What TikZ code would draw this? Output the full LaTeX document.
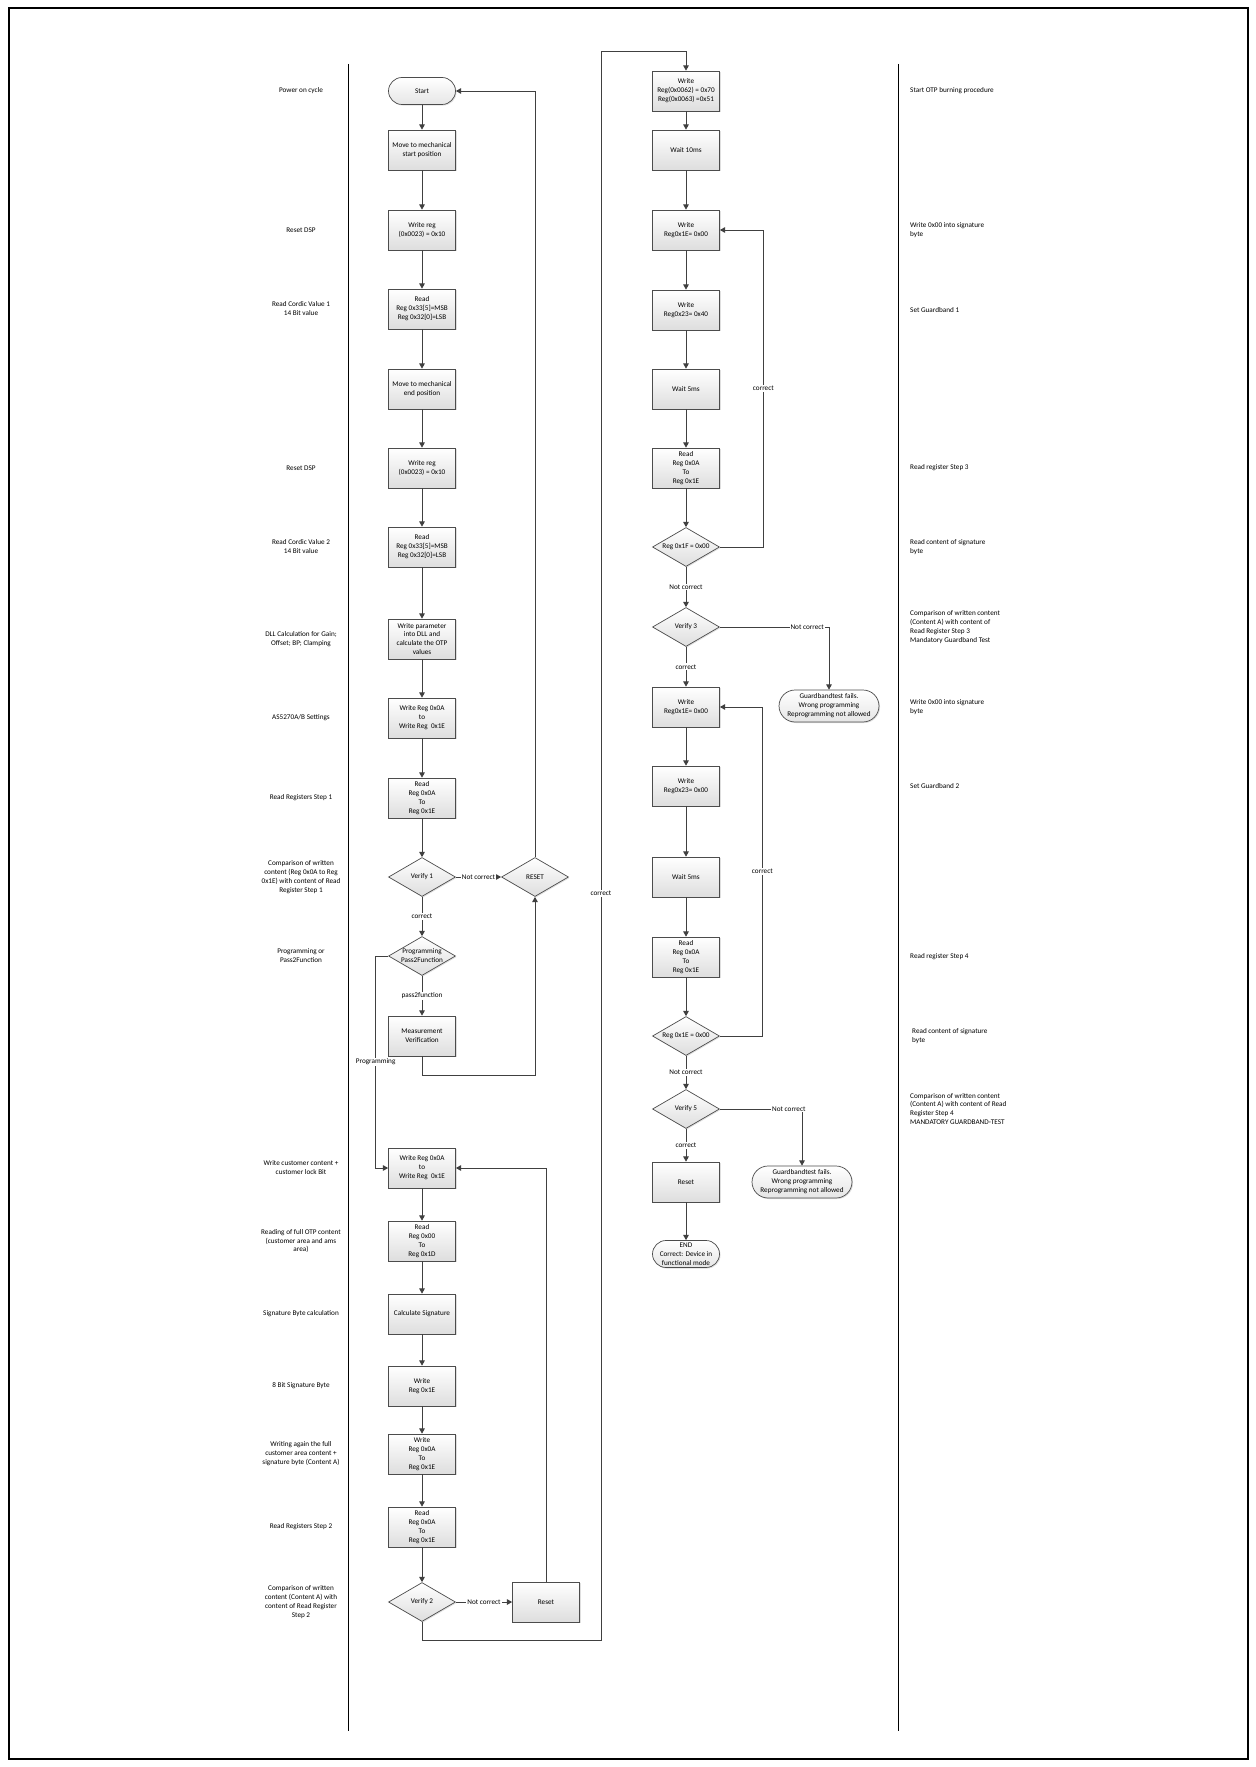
\documentclass[tikz,border=0pt]{standalone}
\usepackage{fontspec}
\setmainfont{Carlito}
\usetikzlibrary{shapes.geometric,arrows.meta,shadows}
\newcommand{\smallfnt}{\fontsize{4.1}{5.1}\selectfont}
\begin{document}
\begin{tikzpicture}[x=0.02cm,y=-0.02cm]
  \tikzset{ box/.style={rectangle,draw=black!70,top color=white,bottom color=black!13,
      drop shadow={opacity=0.25,shadow xshift=0.6pt,shadow yshift=-0.6pt},
      minimum width=1.34cm,minimum height=0.8cm,inner sep=0pt,align=center,font=\smallfnt},
    dec/.style={diamond,draw=black!70,top color=white,bottom color=black!13,
      drop shadow={opacity=0.25,shadow xshift=0.6pt,shadow yshift=-0.6pt},
      minimum width=1.34cm,minimum height=0.78cm,inner sep=0pt},
    term/.style={rectangle,rounded corners=0.27cm,draw=black!70,top color=white,bottom color=black!10,
      drop shadow={opacity=0.25,shadow xshift=0.6pt,shadow yshift=-0.6pt},
      minimum width=1.34cm,minimum height=0.54cm,inner sep=0pt,align=center,font=\smallfnt},
    every label/.style={font=\smallfnt,align=center,inner sep=0pt},
    lbl/.style={fill=white,inner sep=0.6pt,font=\smallfnt},
    lnote/.style={align=center,font=\smallfnt},
    rnote/.style={align=left,anchor=west,font=\smallfnt},
    arr/.style={draw=black!75,line width=0.5pt,-{Triangle[width=3.2pt,length=3pt]}},
  }
  \useasboundingbox (0,0) rectangle (1255,1767);
  \draw[line width=0.6pt] (9,8) rectangle (1248,1759);
  \draw[line width=0.5pt] (348,64) -- (348,1731);
  \draw[line width=0.5pt] (898,64) -- (898,1731);

  % first column of the flow
  \node[term] (start) at (422,91) {Start};
  \node[box] (mstart) at (422,150) {Move to mechanical\\start position};
  \node[box] (wreg1) at (422,230) {Write reg\\(0x0023) = 0x10};
  \node[box] (rcord1) at (422,309) {Read\\Reg 0x33[5]=MSB\\Reg 0x32[0]=LSB};
  \node[box] (mend) at (422,389) {Move to mechanical\\end position};
  \node[box] (wreg2) at (422,468) {Write reg\\(0x0023) = 0x10};
  \node[box] (rcord2) at (422,547) {Read\\Reg 0x33[5]=MSB\\Reg 0x32[0]=LSB};
  \node[box] (wpar) at (422,639) {Write parameter\\into DLL and\\calculate the OTP\\values};
  \node[box] (wset) at (422,718) {Write Reg 0x0A\\to\\Write Reg~ 0x1E};
  \node[box] (rstep1) at (422,798) {Read\\Reg 0x0A\\To\\Reg 0x1E};
  \node[dec,label=center:{Verify 1}] (ver1) at (422,877) {};
  \node[dec,label=center:{RESET}] (reset1) at (535,877) {};
  \node[dec,label=center:{Programming\\Pass2Function}] (prog) at (422,956) {};
  \node[box] (meas) at (422,1036) {Measurement\\Verification};
  \node[box] (wcust) at (422,1168) {Write Reg 0x0A\\to\\Write Reg~ 0x1E};
  \node[box] (rfull) at (422,1241) {Read\\Reg 0x00\\To\\Reg 0x1D};
  \node[box] (calc) at (422,1314) {Calculate Signature};
  \node[box] (wsig) at (422,1386) {Write\\Reg 0x1E};
  \node[box] (wagain) at (422,1454) {Write\\Reg 0x0A\\To\\Reg 0x1E};
  \node[box] (rstep2) at (422,1527) {Read\\Reg 0x0A\\To\\Reg 0x1E};
  \node[dec,label=center:{Verify 2}] (ver2) at (422,1602) {};
  \node[box] (reset2) at (546,1602) {Reset};

  % second column of the flow
  \node[box] (wotp) at (686,91) {Write\\Reg(0x0062) = 0x70\\Reg(0x0063) =0x51};
  \node[box] (wait10) at (686,150) {Wait 10ms};
  \node[box] (wsigA) at (686,230) {Write\\Reg0x1E= 0x00};
  \node[box] (wgb1) at (686,310) {Write\\Reg0x23= 0x40};
  \node[box] (waitA) at (686,389) {Wait 5ms};
  \node[box] (rstep3) at (686,468) {Read\\Reg 0x0A\\To\\Reg 0x1E};
  \node[dec,label=center:{Reg 0x1F = 0x00}] (chkF) at (686,547) {};
  \node[dec,label=center:{Verify 3}] (ver3) at (686,627) {};
  \node[term,minimum width=2cm,minimum height=0.64cm,rounded corners=0.32cm] (failA) at (829,706)
    {Guardbandtest fails.\\Wrong programming\\Reprogramming not allowed};
  \node[box] (wsigB) at (686,707) {Write\\Reg0x1E= 0x00};
  \node[box] (wgb2) at (686,786) {Write\\Reg0x23= 0x00};
  \node[box] (waitB) at (686,877) {Wait 5ms};
  \node[box] (rstep4) at (686,957) {Read\\Reg 0x0A\\To\\Reg 0x1E};
  \node[dec,label=center:{Reg 0x1E = 0x00}] (chkE) at (686,1036) {};
  \node[dec,label=center:{Verify 5}] (ver5) at (686,1109) {};
  \node[box] (reset3) at (686,1182) {Reset};
  \node[term,minimum width=2cm,minimum height=0.64cm,rounded corners=0.32cm] (failB) at (802,1182)
    {Guardbandtest fails.\\Wrong programming\\Reprogramming not allowed};
  \node[term] (fin) at (686,1254) {END\\Correct: Device in\\functional mode};

  % notes on the left
  \node[lnote] (n1) at (301,91) {Power on cycle};
  \node[lnote] (n2) at (301,230) {Reset DSP};
  \node[lnote] (n3) at (301,309) {Read Cordic Value 1\\14 Bit value};
  \node[lnote] (n4) at (301,468) {Reset DSP};
  \node[lnote] (n5) at (301,547) {Read Cordic Value 2\\14 Bit value};
  \node[lnote] (n6) at (301,639) {DLL Calculation for Gain;\\Offset; BP; Clamping};
  \node[lnote] (n7) at (301,718) {AS5270A/B Settings};
  \node[lnote] (n8) at (301,798) {Read Registers Step 1};
  \node[lnote] (n9) at (301,877) {Comparison of written\\content (Reg 0x0A to Reg\\0x1E) with content of Read\\Register Step 1};
  \node[lnote] (n10) at (301,956) {Programming or\\Pass2Function};
  \node[lnote] (n11) at (301,1168) {Write customer content +\\customer lock Bit};
  \node[lnote] (n12) at (301,1241) {Reading of full OTP content\\(customer area and ams\\area)};
  \node[lnote] (n13) at (301,1314) {Signature Byte calculation};
  \node[lnote] (n14) at (301,1386) {8 Bit Signature Byte};
  \node[lnote] (n15) at (301,1454) {Writing again the full\\customer area content +\\signature byte (Content A)};
  \node[lnote] (n16) at (301,1527) {Read Registers Step 2};
  \node[lnote] (n17) at (301,1602) {Comparison of written\\content (Content A) with\\content of Read Register\\Step 2};

  % notes on the right
  \node[rnote] (m1) at (904,91) {Start OTP burning procedure};
  \node[rnote] (m2) at (904,230) {Write 0x00 into signature\\byte};
  \node[rnote] (m3) at (904,310) {Set Guardband 1};
  \node[rnote] (m4) at (904,468) {Read register Step 3};
  \node[rnote] (m5) at (904,547) {Read content of signature\\byte};
  \node[rnote] (m6) at (904,627) {Comparison of written content\\(Content A) with content of\\Read Register Step 3\\Mandatory Guardband Test};
  \node[rnote] (m7) at (904,707) {Write 0x00 into signature\\byte};
  \node[rnote] (m8) at (904,786) {Set Guardband 2};
  \node[rnote] (m9) at (904,957) {Read register Step 4};
  \node[rnote] (m10) at (906,1036) {Read content of signature\\byte};
  \node[rnote] (m11) at (904,1109) {Comparison of written content\\(Content A) with content of Read\\Register Step 4\\MANDATORY GUARDBAND-TEST};

  % the connections of the first column
  \draw[arr] (start) -- (mstart);
  \draw[arr] (mstart) -- (wreg1);
  \draw[arr] (wreg1) -- (rcord1);
  \draw[arr] (rcord1) -- (mend);
  \draw[arr] (mend) -- (wreg2);
  \draw[arr] (wreg2) -- (rcord2);
  \draw[arr] (rcord2) -- (wpar);
  \draw[arr] (wpar) -- (wset);
  \draw[arr] (wset) -- (rstep1);
  \draw[arr] (rstep1) -- (ver1);
  \draw[arr] (ver1) -- (prog) node[lbl,midway] {correct};
  \draw[arr] (ver1) -- (reset1) node[lbl,midway] {Not correct};
  \draw[arr] (reset1.north) |- (start.east);
  \draw[arr] (prog) -- (meas) node[lbl,midway] {pass2function};
  \draw[arr] (meas.south) -- ++(0,19) -| (reset1.south);
  \draw[arr] (prog.west) -- ++(-12.5,0) |- (wcust.west) node[lbl,pos=0.25] {Programming};
  \draw[arr] (wcust) -- (rfull);
  \draw[arr] (rfull) -- (calc);
  \draw[arr] (calc) -- (wsig);
  \draw[arr] (wsig) -- (wagain);
  \draw[arr] (wagain) -- (rstep2);
  \draw[arr] (rstep2) -- (ver2);
  \draw[arr] (ver2) -- (reset2) node[lbl,midway] {Not correct};
  \draw[arr] (reset2.north) |- (wcust.east);
  \draw[arr] (ver2.south) -- ++(0,18.5) -| ++(179,-1589) node[lbl,pos=0.735] {correct} -| (wotp.north);

  % the connections of the second column
  \draw[arr] (wotp) -- (wait10);
  \draw[arr] (wait10) -- (wsigA);
  \draw[arr] (wsigA) -- (wgb1);
  \draw[arr] (wgb1) -- (waitA);
  \draw[arr] (waitA) -- (rstep3);
  \draw[arr] (rstep3) -- (chkF);
  \draw[arr] (chkF.east) -- ++(43.5,0) |- (wsigA.east) node[lbl,pos=0.25] {correct};
  \draw[arr] (chkF) -- (ver3) node[lbl,midway] {Not correct};
  \draw[arr] (ver3.east) -| (failA.north) node[lbl,pos=0.4] {Not correct};
  \draw[arr] (ver3) -- (wsigB) node[lbl,midway] {correct};
  \draw[arr] (wsigB) -- (wgb2);
  \draw[arr] (wgb2) -- (waitB);
  \draw[arr] (waitB) -- (rstep4);
  \draw[arr] (rstep4) -- (chkE);
  \draw[arr] (chkE.east) -- ++(42.5,0) |- (wsigB.east) node[lbl,pos=0.25] {correct};
  \draw[arr] (chkE) -- (ver5) node[lbl,midway] {Not correct};
  \draw[arr] (ver5.east) -| (failB.north) node[lbl,pos=0.42] {Not correct};
  \draw[arr] (ver5) -- (reset3) node[lbl,midway] {correct};
  \draw[arr] (reset3) -- (fin);
\end{tikzpicture}
\end{document}
